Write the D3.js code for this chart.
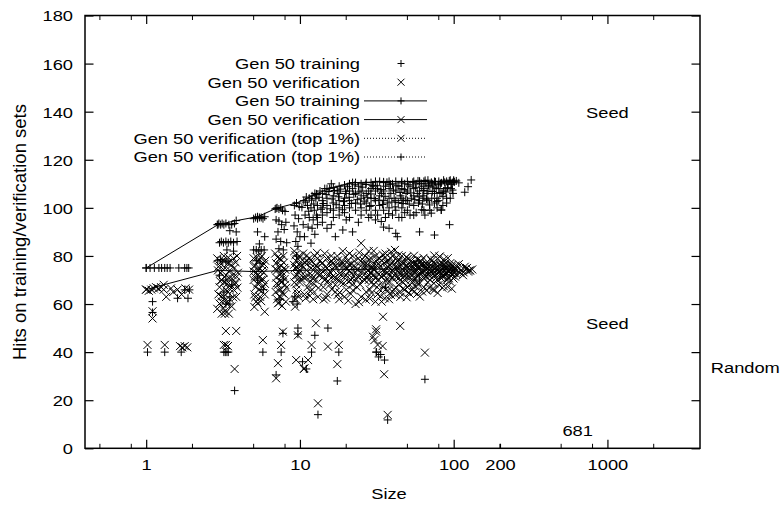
<!DOCTYPE html>
<html><head><meta charset="utf-8">
<script src="https://cdn.jsdelivr.net/npm/d3@7"></script>
<style>
body{margin:0;background:#fff}
svg{display:block}
text{font-family:"Liberation Sans",Arial,Helvetica,sans-serif;fill:#000}
</style>
</head><body>
<svg id="chart" width="782" height="506"></svg>
<script>
// ---------- data ----------
const xTickValues = [1, 10, 100, 200, 1000];
const xMinorTickValues = [0.5, 0.8, 2, 5, 8, 20, 50, 80, 200, 500, 800, 2000];
const yTickValues = [0, 20, 40, 60, 80, 100, 120, 140, 160, 180];
const xAxisTitle = "Size";
const yAxisTitle = "Hits on training/verification sets";
const legendLabels = ["Gen 50 training", "Gen 50 verification", "Gen 50 training",
  "Gen 50 verification", "Gen 50 verification (top 1%)", "Gen 50 verification (top 1%)"];
const annotationTexts = ["Seed", "Seed", "Random", "681"];
const annotationX = [1000, 1000, 4700, 640];
const annotationY = [139.5, 51.8, 33.4, 7.2];

const trainingPoints = [
 [1,75],[1.06,75],[1.13,75],[1.21,75],[1.26,75],[1.32,75],[1.37,75],[1.43,75],[1.63,75],[1.78,75],[1.84,75],[1.89,75],
 [1.02,40],[1.32,40],[1.69,40],[1.1,61],[1.1,56.5],[1.6,62.4],[1.78,65.9],[1.87,62.4],[1.91,65.9],
 [2.9,93],[2.97,93.5],[3.05,93],[3.12,93.5],[3.2,93],[3.3,93.5],[3.45,93],[3.6,93],[3.75,93.5],
 [3.85,90],[3.5,90.5],
 [3.0,85.5],[3.08,86],[3.18,85.5],[3.3,86],[3.42,85.5],[3.55,86],[3.7,85.5],[3.9,86],
 [3.35,82.5],[3.7,82],
 [2.92,78],[3.05,78.5],[3.15,77.5],[3.3,78],[3.45,77.5],
 [3.0,72],[3.3,70],[3.6,68],[3.2,65],[3.5,63],
 [3.2,40],[3.27,40],[3.35,40],[3.42,40],[3.76,24],[3.3,60],[3.5,60],
 [5.0,95.5],[5.15,96],[5.3,95.5],[5.45,96],[5.6,96],[5.75,95.5],[5.9,96.3],
 [5.3,90],[5.9,88],[5.45,85],[5.0,82.5],[5.2,82.5],[5.4,82],[5.6,82.5],[5.85,82.5],
 [5.2,78],[5.5,77],[5.74,40],[5.3,70],[5.8,66],
 [6.9,99.5],[7.1,100],[7.3,99.5],[7.5,100],[7.7,99],[8.0,98.5],
 [7.0,95],[7.3,94.5],[7.6,93],[8.1,94],[7.2,90],[7.9,91],[7.0,87],[7.5,86],[8.2,85.5],[7.3,83],[7.8,82.5],
 [7.55,40],[7.0,30.5],[7.75,47.8],[7.4,62],[7.8,70],
 [9.2,101],[9.5,102],[9.9,100.5],[9.3,97],[9.8,95.5],[9.15,92.5],[9.6,90],[10.0,88],[9.4,86],[9.7,84],[9.5,80],
 [9.7,50],[9.7,47.5],[9.25,63],
 [10.6,103],[11.0,104.5],[11.5,104],[12.0,105],[12.5,106],[12.9,105.5],[11.2,101],[11.8,100],[12.4,99],[13.0,101],
 [10.8,97],[11.5,96],[12.2,95],[12.8,97],[10.5,93],[11.3,92],[12.0,91.5],[13.0,93],[11.8,85.3],[12.5,89],[10.7,88],
 [12.5,47],[11.9,40],[10.4,36],[11.0,33],[13.1,14],
 [14,106],[14,103],[14,100],[14,97],[14,94],
 [15,108],[15,104],[15,101],[15,98],[15,91.5],
 [16.5,108.5],[16.5,105],[16.5,102],[16.5,99],[16.5,96],[17,88],
 [18,109],[18,106],[18,103],[18,100],[18,97],[19,90.8],
 [19.5,109.5],[19.5,104],[19.5,101],[19.5,98],
 [21,110],[21,107],[21,103],[21,100],[21,96],[22,90],
 [23,110.5],[23,106],[23,102],[23,99],
 [25,110],[25,107],[25,104],[25,100],[25,97],
 [27,110.5],[27,106],[27,102],[27,99],
 [29,110.5],[29,108],[29,104],[29,101],[29,97],
 [31,111],[31,107],[31,103],[31,99],[31,95],
 [33.8,94.3],[33,111],[33,105],[33,101],
 [35,110.5],[35,107],[35,103],[35,99],[35,92],
 [38,111],[38,108],[38,104],[38,100],[38,91.5],
 [42,111],[42,107],[42,103],[42,99],[42,89.4],[43,88],
 [46,111],[46,108],[46,104],[46,100],[46,96],
 [50,111],[50,107],[50,103],[50,99],
 [55,111],[55,108],[55,105],[55,101],[55,97],
 [60,111],[60,107],[60,103],[60,90],
 [64,111],[64,108],[64,104],[64,99],
 [68,111.5],[68,107],[68,103],
 [71.5,97.8],[75,88.7],[75,111],[75,106],[75,102],
 [80,111],[80,108],[80,103],[83,99.1],
 [86,111.5],[86,107],
 [90,111],[90,104],[94,93],[95,111.5],[98,110.5],[100,111.5],
 [118,106.5],[124,108.8],[130,111.6],
 [13.5,107],[14.5,108],[16,110],[17.5,107],[20,106],[22,108],[24,109],[26,105],[28,107],[30,109],[32,108],[34,106],
 [36,109],[37,102],[39,106],[40,110],[41,104],[44,109],[45,105],[47,103],[48,110],[49,106],[52,109],[53,104],
 [57,110],[58,106],[59,102],[62,109],[63,105],[66,110],[67,106],[70,109],[72,104],[73,110],[77,108],[78,104],
 [82,110],[84,106],[88,108],[92,110],[96,108],[99,106],
 [13,96],[16,93],[20,95],[24,94],[28,96],[32,97],[36,96],[40,97],[44,96],[48,98],[52,97],[57,98],[65,97],
 [70,99],[78,100],[85,101],[90,102],[95,104],
 [15.2,50],[17.9,40],[17.5,28],[31.3,40],[31.5,40],[32.5,38],[33.5,39],[35.5,36.7],[37.2,11.8],[65,28.7],
 [9.0,61],[9.6,60],[36,67],[60,70],
 [10.3,100.2],[10.9,102.4],[11.4,98.6],[11.9,103.2],[12.3,101.6],[12.7,103.8],[13.3,104.4],[13.7,99.4],[14.2,101.8],[14.8,105.6],
 [15.4,106.8],[15.8,99.6],[16.2,103.7],[16.8,107.2],[17.2,101.3],[17.8,104.6],[18.4,107.8],[18.9,99.2],[19.2,102.6],[19.8,106.9],
 [20.4,108.8],[20.9,104.4],[21.6,101.8],[22.4,105.6],[22.8,109.6],[23.6,103.4],[24.2,106.6],[24.8,101.6],[25.6,108.6],[26.2,102.8],
 [26.8,109.7],[27.6,104.2],[28.4,100.6],[28.9,105.8],[29.6,109.4],[30.4,103.9],[31.8,109.2],[32.6,103.2],[33.6,107.6],[34.4,101.4],
 [35.8,104.8],[36.8,110.6],[37.8,97.6],[38.8,109.8],[39.6,102.4],[40.6,107.4],[41.6,100.4],[42.8,109.2],[43.6,102.2],[44.8,106.4],
 [45.8,110.4],[46.8,101.8],[47.8,107.6],[48.8,103.2],[50.6,109.6],[51.4,101.6],[52.6,106.2],[54.2,110.6],[55.8,103.4],[56.6,108.4],
 [58.6,111.2],[59.4,104.6],[61.4,110.2],[62.6,101.6],[63.8,107.2],[65.2,111.4],[66.6,103.6],[68.6,109.4],[69.6,101.2],[71.6,110.6],
 [72.6,106.8],[74.4,108.6],[76.2,110.8],[77.6,102.6],[79.4,109.6],[81.4,106.4],[83.2,110.4],[85.2,104.8],[87.4,110.6],[89.2,106.6],
 [91.2,108.4],[93.6,111.2],[96.6,109.8],[98.2,107.4],[101,110.8],[104,111.2],[108,110.4]
];

const verificationPoints = [
 [1.0,66],[1.04,65.5],[1.08,66],[1.12,66.5],[1.16,67],[1.2,66.5],[1.25,67],[1.3,66],[1.35,63],[1.45,66.5],[1.5,65],
 [1.6,66],[1.7,64],[1.8,66.5],[1.9,66],[1.1,57],[1.1,54],[1.02,43],[1.32,43],[1.66,42.5],[1.72,42],[1.78,42.5],[1.85,42],
 [2.9,79],[3.0,76],[3.05,73],[3.1,70],[3.0,67],[2.95,64],[3.1,61],[2.9,58],
 [3.2,80],[3.25,75],[3.3,72],[3.2,69],[3.3,66],[3.2,63],[3.35,60],[3.25,57],
 [3.4,77],[3.5,74],[3.45,71],[3.55,68],[3.4,65],[3.5,62],[3.6,59],
 [3.7,79],[3.75,75],[3.65,72],[3.8,69],[3.7,66],[3.85,63],[3.9,80],[3.95,73],
 [3.1,56],[3.25,56],[3.45,56],[3.3,48.8],[3.85,48.8],[3.2,43],[3.3,43],[3.4,42.5],[3.76,33],
 [2.95,75.5],[3.02,69.5],[3.08,63.2],[3.15,78.2],[3.22,71.3],[3.28,61.6],[3.36,68.3],[3.42,79.4],[3.48,66.4],
 [3.58,76.2],[3.62,70.6],[3.68,62.8],[3.78,68.2],[3.82,77.3],[3.88,71.4],[3.92,66.8],[3.0,60.2],[3.18,58.3],
 [5.0,79],[5.1,76],[5.2,73],[5.0,70],[5.15,67],[5.05,64],[5.2,61],
 [5.35,78],[5.45,75],[5.3,72],[5.5,69],[5.4,66],[5.5,63],[5.3,60.3],
 [5.65,80],[5.7,76],[5.8,73],[5.6,70],[5.75,67],[5.9,64],[5.9,56.8],[5.74,45],[5.95,78],
 [5.02,75.6],[5.08,71.4],[5.12,62.8],[5.25,79.4],[5.28,68.6],[5.38,74.1],[5.48,71.2],[5.55,79.2],[5.62,65.3],
 [5.68,73.8],[5.78,70.2],[5.85,76.6],[5.92,68.4],[5.05,58.8],[5.6,61.2],
 [6.9,81],[7.0,77],[7.1,74],[7.0,71],[7.2,68],[6.95,65],[7.1,62],[7.2,60.3],
 [7.4,79],[7.5,76],[7.4,72],[7.6,69],[7.5,66],[7.4,63],[7.8,80],[7.9,75],[7.75,72],[8.0,68],[7.9,64],[8.1,61],
 [6.92,74.6],[7.05,68.6],[7.15,79.4],[7.25,65.8],[7.32,75.2],[7.45,69.8],[7.55,78.3],[7.62,73.4],[7.7,64.6],
 [7.85,77.2],[7.95,70.4],[8.05,74.2],[7.3,60.6],[7.65,59.2],[8.15,66.8],
 [7.55,43],[7.2,35.4],[7.0,29.1],[7.75,48.5],
 [9.2,82],[9.4,78],[9.3,75],[9.6,72],[9.2,69],[9.5,66],[9.8,63],[9.3,58.9],[9.9,80],[10,76],[9.8,73],[10,69],
 [9.15,76.3],[9.25,71.5],[9.35,80.4],[9.45,68.2],[9.55,75.4],[9.65,64.4],[9.75,78.6],[9.85,70.6],[9.95,74.2],[9.35,62.1],
 [9.7,47],[9.45,36.7],
 [10.5,81],[10.8,77],[11,74],[10.6,71],[11.2,67],[10.7,64],[11.5,79],[11.8,75],[12,72],[11.6,69],[12.2,62],
 [12.5,80],[12.8,76],[13,73],[12.6,70],[13.1,63],[13.5,78],[13.8,74],[14,71],[14.2,67],[14.5,81],[15,75],
 [15.3,72],[15.6,68],[16,78],[16.5,74],[16.8,71],[17,65],[17.5,80],[18,76],[18.3,73],[18.6,69],[19,82],
 [19.5,63],[19.8,75],[20,72],[20.5,78],[21,74],[21.5,70],[22,80],[22.5,76],[23,73],[23.5,67],[24,79],
 [25,85.3],[25,63],[25.5,75],[26,72],[26.5,80],[27,77],[27.5,74],[28,70],[28.5,66],[29,79],[29.5,75],[30,72],
 [10.2,70.5],[10.4,78.3],[10.9,62.4],[11.1,80.2],[11.3,71.8],[11.7,65.3],[11.9,77.6],[12.3,68.4],[12.6,74.9],[12.9,81.3],
 [13.2,66.7],[13.6,72.6],[13.9,76.8],[14.3,61.9],[14.6,74.2],[14.9,78.9],[15.2,69.6],[15.7,73.3],[16.1,66.2],[16.4,77.1],
 [16.9,75.6],[17.3,70.4],[17.7,78.2],[18.1,64.8],[18.5,72.1],[18.9,75.4],[19.3,68.7],[19.8,79.6],[20.2,74.6],[20.7,69.3],
 [21.2,76.3],[21.6,72.8],[22.1,65.7],[22.6,77.9],[23.1,70.6],[23.7,74.4],[24.3,81.4],[24.6,68.2],[25.2,73.7],[25.8,76.9],
 [26.4,69.9],[26.9,74.8],[27.6,71.6],[28.2,78.6],[28.8,73.1],[29.3,69.2],[29.8,76.4],
 [10.7,33.3],[11.3,36.7],[11.9,43],[12.7,52],[15.2,42.3],[17.9,43],[17.5,35],[13.1,18.7],[10.6,33],
 [31,80],[31.5,76],[32,73],[32.5,70],[33,66],[34,78],[34.5,74],[35,72],[36,81],[36.5,75],[37,73],[38,69],
 [39,63.8],[39.5,77],[40,74],[41,72],[41.5,82.5],[42,79],[43,75],[44,73],[45,70],[46,76],[47,74],[48,72],
 [49.3,79.5],[50,75],[51,73],[52,71],[54,77],[55,74],[56,73],[58,75],[60,73],[62,76],[63,74],[65,72],
 [67,75],[69,73],[71,76],[73,74],[75,65.8],[75,72],[77,75],[79,73],[81,79.7],[83,74],[85,72],[87,75],
 [90,73],[93,74],[96,75],[100,73],[105,74],[118,75.5],[124,73.5],
 [29.9,46.4],[31.3,49.5],[34.7,54.7],[44.9,50.9],[31.3,48.5],[30.5,45],[32,43],[34.5,42.5],[65,39.8],
 [35.3,30.8],[37.2,13.9],
 [32,64],[36,66],[42,67],[48,66],[52,68],[58,69],[64,67],[70,70],[80,68],[90,70],[34,61],[45,63],[55,65],
 [10.3,76.2],[10.9,71.3],[11.4,77.4],[12.1,70.6],[12.7,75.8],[13.3,71.9],[14,77.2],[14.7,70.4],[15.5,76.8],[16.2,71.2],
 [17,75.9],[17.8,70.1],[18.8,77.6],[19.7,71.7],[20.8,76.4],[21.8,70.9],[22.8,75.2],[23.8,71.4],[24.8,77.8],[26,70.3],
 [27.2,76.1],[28.4,71.8],[29.6,75.5],[31,70.7],[32.4,76.9],[33.8,71.5],[35.3,77.1],[36.9,70.5],[38.5,76.3],[40.2,71.1],
 [42,75.6],[44,70.8],[46,77.3],[48,71.6],[50.5,76.7],[53,70.2],[55.5,76.8],[58,71.3],[61,77.5],[64,70.6],
 [67,76.4],[70,71.8],[73.5,77.2],[77,70.9],[81,76.6],[85,71.2],[89,77.1],[93,70.7],[97,76.2],[102,71.4],[108,76.6],
 [11,78],[12,66],[13,79],[14.5,70],[15,64],[16,80],[17,68],[18,62],[19,77],[20,66],[21,81],[22,68],[23,60],
 [24,71],[26,78],[27,65],[28,82],[30,68],[31,61],[33,79],[35,67],[37,78],[38,62],[40,80],[41,66],[43,78],
 [44,68],[46,80],[47,69],[49,76],[50,67],[53,78],[54,69],[57,77],[59,68],[61,78],[66,77],[68,69],[72,78],
 [76,77],[78,70],[84,77],[88,76],[92,71],[95,77],[98,72],[103,76],[110,73],[115,72],[122,75],[128,74],
 [30.5,74.3],[31.2,71.4],[31.8,78.4],[32.6,67.8],[33.3,75.8],[33.9,71.2],[34.6,80.6],[35.6,73.6],[36.3,69.4],[36.8,77.2],
 [37.6,75.3],[38.2,72.4],[38.9,79.1],[39.7,70.8],[40.6,73.4],[41.3,76.7],[42.4,71.1],[43.2,73.9],[43.8,80.3],[44.6,75.7],
 [45.4,72.6],[46.3,74.4],[47.2,77.4],[47.8,70.2],[48.7,73.2],[49.6,75.9],[50.8,71.6],[51.6,74.7],[52.5,76.6],[53.6,72.3],
 [54.6,75.4],[55.8,70.7],[56.7,73.8],[57.6,76.2],[58.8,71.9],[59.6,74.6],[60.7,72.7],[61.8,76.5],[62.8,73.2],[64.2,75.7],
 [65.4,71.4],[66.3,74.2],[67.6,76.1],[68.6,72.1],[69.8,74.4],[71.2,73.3],[72.4,75.6],[74.2,72.8],[75.6,74.9],[76.8,76.4],
 [78.2,72.4],[79.6,74.5],[80.4,73.3],[82.2,75.9],[83.8,72.6],[85.6,76.2],[86.8,73.7],[88.2,74.8],[89.6,72.2],[91.4,75.3],
 [92.6,73.6],[94.4,74.3],[95.8,72.9],[97.6,75.6],[99.2,73.9],[101,74.8],[104,72.5],[106,75.2],[112,74.1],[116,73.2],
 [120,74.6],[126,73.9],[132,74.4],
 [33.4,63.2],[37.4,65.6],[41.8,63.9],[46.8,66.4],[51.2,64.6],[56.2,67.3],[62.4,65.2],[69.2,66.8],[74.4,68.6],
 [82.8,70.8],[86.2,67.4],[94.6,69.4],[99.8,70.6],[60.2,63.1],[28.4,62.3],[24.2,60.8],[20.6,61.4],
 [30.2,82.1],[35.8,79.4],[39.2,81.7],[44.2,78.3],[50.4,78.8],[55.2,80.1],[58.4,78.6],[63.6,79.2],[70.6,78.7],
 [74.8,80.2],[86.4,78.6],[91.6,79.1],
 [11.6,63.4],[14.8,62.6],[17.6,63.8],[21.4,64.2],[26.8,61.8],[29.2,64.6],[35.6,62.4],[39.8,65.2],[44.6,64.8],
 [49.4,62.8],[53.8,66.2],[57.8,64.2],[66.8,65.6],[72.8,66.2],[78.6,64.6],[84.4,66.8],[91.2,67.2],[97.2,66.4]
];

const trainingBestLine = [[1,75],[2.93,93],[3.85,94.7],[5.3,96.3],[7.0,99.8],[9.5,102],[12.8,105.8],
 [15.6,108.1],[22,110.5],[35,110.8],[60,111],[100,111]];
const verificationBestLine = [[1,66],[1.3,68],[2.93,74],[5,73.5],[10,74],[30,74.5],[100,74.5]];
const verificationTop1Line = [[49.3,79.5],[81,79.7]];
const trainingTop1Line = [[62,99.2],[83,99.1]];

// ---------- drawing ----------
const svg = d3.select("#chart");
const sx = 1.18;               // horizontal stretch of the reference font
const fs = 15.5;
const L = 85, R = 700, T = 15.5, B = 448.3;
const x = d3.scaleLog().domain([0.4, 4000]).range([L, R]);
const y = d3.scaleLinear().domain([0, 180]).range([B, T]);

const plus = r => `M${-r},0H${r}M0,${-r}V${r}`;
const cross = r => `M${-r},${-r}L${r},${r}M${-r},${r}L${r},${-r}`;

svg.append("defs").append("clipPath").attr("id", "clip")
  .append("rect").attr("x", L).attr("y", T).attr("width", R - L).attr("height", B - T);

// axes
const fmt = d => String(d);
const gx = svg.append("g").attr("transform", `translate(0,${B})`)
  .call(d3.axisBottom(x).tickValues(xTickValues).tickFormat(fmt).tickSizeInner(-8).tickSizeOuter(0).tickPadding(11));
gx.selectAll(".tick line").attr("y2", d => d === 200 ? -4.5 : -8.5);
gx.append("g").selectAll("line").data(xMinorTickValues).join("line")
  .attr("x1", d => x(d)).attr("x2", d => x(d)).attr("y1", 0).attr("y2", -4.5).attr("stroke", "#000");
const gxt = svg.append("g").attr("transform", `translate(0,${T})`)
  .call(d3.axisTop(x).tickValues([1, 10, 100, 1000]).tickFormat("").tickSizeInner(-8.5).tickSizeOuter(0));
gxt.append("g").selectAll("line").data(xMinorTickValues).join("line")
  .attr("x1", d => x(d)).attr("x2", d => x(d)).attr("y1", 0).attr("y2", 4.5).attr("stroke", "#000");
const gy = svg.append("g").attr("transform", `translate(${L},0)`)
  .call(d3.axisLeft(y).tickValues(yTickValues).tickFormat(fmt).tickSizeInner(-8.5).tickSizeOuter(0));
const gyr = svg.append("g").attr("transform", `translate(${R},0)`)
  .call(d3.axisRight(y).tickValues(yTickValues).tickFormat("").tickSizeInner(-8.5).tickSizeOuter(0));
[gx, gxt, gy, gyr].forEach(g => { g.select(".domain").remove(); g.selectAll(".tick line").attr("stroke-width", 1.2); });
gx.selectAll("text").attr("font-size", fs).attr("font-family", null).attr("transform", `scale(${sx},1)`);
gy.selectAll("text").attr("font-size", fs).attr("font-family", null)
  .attr("x", -12 / sx).attr("dy", "0.35em").attr("transform", `scale(${sx},1)`);

// frame
svg.append("rect").attr("x", L).attr("y", T).attr("width", R - L).attr("height", B - T)
  .attr("fill", "none").attr("stroke", "#000").attr("stroke-width", 1.5);

// axis titles
svg.append("text").attr("transform", `translate(${(L + R) / 2 - 3.5},494) scale(${sx},1)`)
  .attr("text-anchor", "middle").attr("dy", "0.35em").attr("font-size", fs).text(xAxisTitle);
svg.append("text").attr("transform", `translate(19.5,232) rotate(-90)`)
  .attr("text-anchor", "middle").attr("dy", "0.35em").attr("font-size", 18.5).text(yAxisTitle);

// plot
const plot = svg.append("g").attr("clip-path", "url(#clip)");
const line = d3.line().x(d => x(d[0])).y(d => y(d[1]));

plot.append("g").selectAll("path").data(trainingPoints).join("path")
  .attr("transform", d => `translate(${x(d[0])},${y(d[1])})`).attr("d", plus(4))
  .attr("fill", "none").attr("stroke", "#000").attr("stroke-width", 1);
plot.append("g").selectAll("path").data(verificationPoints).join("path")
  .attr("transform", d => `translate(${x(d[0])},${y(d[1])})`).attr("d", cross(4))
  .attr("fill", "none").attr("stroke", "#000").attr("stroke-width", 1);

function drawLine(data, dash, sym) {
  plot.append("path").datum(data).attr("d", line).attr("fill", "none").attr("stroke", "#000")
    .attr("stroke-width", 1).attr("stroke-dasharray", dash);
  plot.append("g").selectAll("path").data(data).join("path")
    .attr("transform", d => `translate(${x(d[0])},${y(d[1])})`).attr("d", sym(4))
    .attr("fill", "none").attr("stroke", "#000").attr("stroke-width", 1);
}
drawLine(trainingBestLine, null, plus);
drawLine(verificationBestLine, null, cross);
drawLine(verificationTop1Line, "1,2", cross);
drawLine(trainingTop1Line, "1,2", plus);

// annotations
svg.append("g").selectAll("text").data(annotationTexts).join("text")
  .attr("transform", (d, i) => `translate(${x(annotationX[i])},${y(annotationY[i])}) scale(${sx},1)`)
  .attr("text-anchor", (d, i) => d === "Random" ? "start" : "middle")
  .attr("dy", "0.35em").attr("font-size", fs).text(d => d);

// legend
const legendKinds = ["plus", "cross", "plusLine", "crossLine", "crossDot", "plusDot"];
const lg = svg.append("g");
legendLabels.forEach((lab, i) => {
  const ry = 63.5 + i * 18.7;
  lg.append("text").attr("transform", `translate(360,${ry}) scale(${sx},1)`)
    .attr("text-anchor", "end").attr("dy", "0.35em").attr("font-size", fs).text(lab);
  const k = legendKinds[i];
  if (k.endsWith("Line") || k.endsWith("Dot")) {
    lg.append("line").attr("x1", 364).attr("x2", 427).attr("y1", ry).attr("y2", ry)
      .attr("stroke", "#000").attr("stroke-width", 1).attr("stroke-dasharray", k.endsWith("Dot") ? "1,2" : null);
  }
  lg.append("path").attr("transform", `translate(401,${ry})`)
    .attr("d", k.startsWith("plus") ? plus(3.5) : cross(3.5))
    .attr("fill", "none").attr("stroke", "#000").attr("stroke-width", 1);
});
</script>
</body></html>
